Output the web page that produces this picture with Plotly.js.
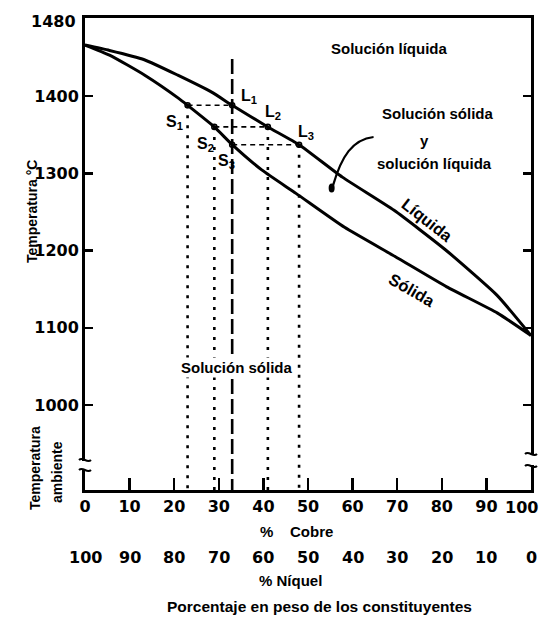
<!DOCTYPE html>
<html><head><meta charset="utf-8">
<script src="https://cdn.plot.ly/plotly-3.0.1.min.js"></script>
<style>html,body{margin:0;padding:0;background:#fff}#chart{width:541px;height:617px}</style>
</head><body><div id="chart"></div>
<script>
// ---- data ----
const cobreTicks = [0,10,20,30,40,50,60,70,80,90,100];
const niquelTicks = [100,90,80,70,60,50,40,30,20,10,0];
const tempTicks = [1000,1100,1200,1300,1400];
const topTempLabel = '1480';
// liquidus (% Cu, °C)
const liqCu = [0, 5.5, 13.3, 20.8, 28.4, 33, 41, 48, 57.7, 69.3, 80.8, 92.4, 100];
const liqT  = [1466, 1459, 1447, 1427, 1405, 1388, 1360, 1337, 1295, 1252, 1201, 1142, 1090];
// solidus (% Cu, °C)
const solCu = [0, 5.5, 13.4, 21, 23, 29, 33, 39.7, 47.3, 58.2, 69.6, 81.1, 92.5, 100];
const solT  = [1466, 1453, 1427, 1397, 1388, 1360, 1337, 1304, 1274, 1230, 1192, 1153, 1119, 1090];
// tie lines
const tieT = [1388, 1360, 1337];
const tieS = [23, 29, 33];
const tieL = [33, 41, 48];
// alloy composition line
const alloyCu = 33;
const alloyTopT = 1448;
// dotted drops
const dropCu = [23, 29, 41, 48];
const dropTopT = [1388, 1360, 1360, 1337];
const yMin = 890, yMax = 1501;

// ---- styling ----
const NUM = '"DejaVu Sans", sans-serif';
const TXT = '"Liberation Sans", Arial, sans-serif';
const K = '#000';
const PW = 446, PH = 472;

const traces = [];
traces.push({x: liqCu, y: liqT, mode:'lines', line:{color:K, width:3, shape:'spline', smoothing:0.5}, hoverinfo:'skip'});
traces.push({x: solCu, y: solT, mode:'lines', line:{color:K, width:3, shape:'spline', smoothing:0.5}, hoverinfo:'skip'});
tieT.forEach((t,i) => traces.push({x:[tieS[i], tieL[i]], y:[t,t], mode:'lines', line:{color:K, width:1.6, dash:'5px,4px'}, hoverinfo:'skip'}));
traces.push({x:[alloyCu, alloyCu], y:[alloyTopT, yMin], mode:'lines', line:{color:K, width:2.6, dash:'15px,5px'}, hoverinfo:'skip'});
dropCu.forEach((c,i) => traces.push({x:[c,c], y:[dropTopT[i], yMin], mode:'lines', line:{color:K, width:2.6, dash:'3px,7px'}, hoverinfo:'skip'}));
traces.push({x: tieS.concat(tieL), y: tieT.concat(tieT), mode:'markers', marker:{symbol:'circle-open', size:5, color:K, line:{width:1.6, color:K}}, hoverinfo:'skip'});

function txt(text, x, y, size, extra) {
  return Object.assign({text:'<b>'+text+'</b>', x:x, y:y, xref:'x', yref:'y', showarrow:false,
    xanchor:'center', yanchor:'middle', font:{family:TXT, size:size, color:K}}, extra || {});
}
function ptxt(text, x, y, size, fam, extra) {
  return Object.assign({text:'<b>'+text+'</b>', x:x, y:y, xref:'paper', yref:'paper', showarrow:false,
    xanchor:'center', yanchor:'middle', font:{family:fam, size:size, color:K}}, extra || {});
}
function btxt(text, x, py, size, fam, extra) {
  return Object.assign({text:'<b>'+text+'</b>', x:x, y:(490-py)/PH, xref:'x', yref:'paper', showarrow:false,
    xanchor:'center', yanchor:'middle', font:{family:fam, size:size, color:K}}, extra || {});
}
const lastI = cobreTicks.length - 1;
const anns = [
  txt('Solución líquida', 68.1, 1462, 15),
  txt('Solución sólida', 79.2, 1378, 15),
  txt('y', 76.2, 1343, 15),
  txt('solución líquida', 78.4, 1313, 15),
  txt('Líquida', 76.8, 1240, 16.5, {textangle:38}),
  txt('Sólida', 73.3, 1149, 16.5, {textangle:30}),
  txt('Solución sólida', 34, 1048, 15, {bgcolor:'#fff', borderpad:1}),
  txt('L<sub>1</sub>', 36.8, 1399, 16),
  txt('L<sub>2</sub>', 42.1, 1379, 16),
  txt('L<sub>3</sub>', 49.5, 1353, 16),
  txt('S<sub>1</sub>', 20.1, 1366, 16),
  txt('S<sub>2</sub>', 27.0, 1337, 16),
  txt('S<sub>3</sub>', 31.7, 1315, 16),
  ptxt(topTempLabel, 0, 1, 16, NUM, {xanchor:'right', xshift:-7, yshift:-3}),
  ptxt('Temperatura °C', (32-85)/PW, (490-212)/PH, 14, TXT, {textangle:-90}),
  ptxt('Temperatura', (35-85)/PW, (490-468)/PH, 14, TXT, {textangle:-90}),
  ptxt('ambiente', (57-85)/PW, (490-472)/PH, 14, TXT, {textangle:-90}),
  btxt('%\u00a0\u00a0\u00a0 Cobre', 47.5, 531, 15, TXT),
  btxt('% Níquel', 46, 580, 15, TXT),
  btxt('Porcentaje en peso de los constituyentes', 52.5, 606, 15.5, TXT),
  btxt(String(cobreTicks[lastI]), cobreTicks[lastI], 507, 16, NUM, {xanchor:'right', xshift:9}),
];
cobreTicks.forEach((c,i) => anns.push(btxt(String(niquelTicks[i]), c, 557, 16, NUM)));

function wave(xp, ypix) {
  const ya = (490-ypix)/PH;
  return {type:'path', xref:'paper', yref:'paper', layer:'above',
    path:`M ${xp-6/PW},${ya} C ${xp-2/PW},${ya+4/PH} ${xp+2/PW},${ya-4/PH} ${xp+6/PW},${ya}`,
    line:{color:K, width:2}};
}
function gap(xp, y1, y2) {
  return {type:'rect', xref:'paper', yref:'paper', layer:'above', x0:xp-4/PW, x1:xp+4/PW,
    y0:(490-y2)/PH, y1:(490-y1)/PH, fillcolor:'#fff', line:{width:0}};
}
const shapes = [
  gap(0, 461, 469), wave(0, 460), wave(0, 470),
  gap(1, 455, 465), wave(1, 454), wave(1, 466),
  {type:'path', xref:'x', yref:'y', path:'M 64.7,1347 C 60,1344 57.5,1322 55.6,1284', line:{color:K, width:2.2}},
  {type:'circle', xref:'x', yref:'y', xsizemode:'pixel', ysizemode:'pixel', xanchor:55.3, yanchor:1281, x0:-3, x1:3, y0:-4.5, y1:4.5, fillcolor:K, line:{width:0}},
];

const layout = {
  width:541, height:617, margin:{l:85, r:10, t:18, b:127},
  paper_bgcolor:'#fff', plot_bgcolor:'#fff', showlegend:false,
  xaxis:{range:[0,100], tickvals:cobreTicks, ticktext:cobreTicks.map((c,i) => i === lastI ? '' : String(c)), ticks:'inside', ticklen:12, tickwidth:2.5, tickcolor:K,
    showline:true, linewidth:3, linecolor:K, mirror:true, showgrid:false, zeroline:false,
    tickfont:{family:NUM, size:16, color:K, weight:'bold'}, fixedrange:true},
  yaxis:{range:[yMin,yMax], tickvals:tempTicks, ticktext:tempTicks.map(String), ticks:'inside', ticklen:8, tickwidth:2.5, tickcolor:K,
    showline:true, linewidth:3, linecolor:K, mirror:'ticks', showgrid:false, zeroline:false,
    tickfont:{family:NUM, size:16, color:K, weight:'bold'}, fixedrange:true},
  annotations: anns, shapes: shapes
};
Plotly.newPlot('chart', traces, layout, {staticPlot:true});
</script></body></html>
